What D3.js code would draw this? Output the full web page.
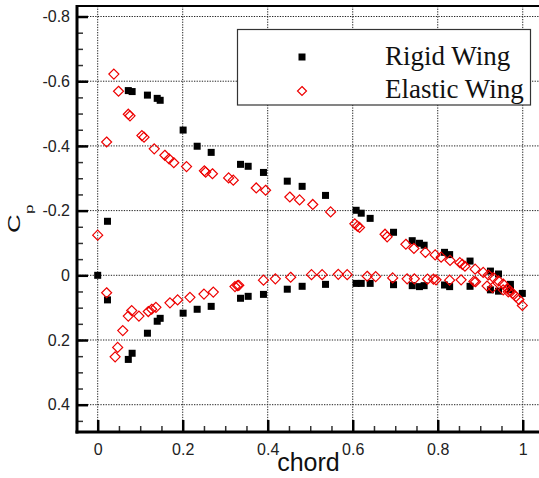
<!DOCTYPE html>
<html>
<head>
<meta charset="utf-8">
<script src="https://cdn.jsdelivr.net/npm/d3@7"></script>
<style>
  body { margin: 0; background: #fff; }
  svg { display: block; font-family: "Liberation Sans", Arial, sans-serif; }
</style>
</head>
<body>
<div id="vis-container"></div>
<script>
// chord, Cp
const rigidUpper = [
  [0.023, -0.167], [0.072, -0.571], [0.081, -0.568], [0.117, -0.557], [0.140, -0.547],
  [0.147, -0.541], [0.201, -0.449], [0.234, -0.399], [0.267, -0.380], [0.336, -0.343],
  [0.354, -0.337], [0.390, -0.318], [0.446, -0.291], [0.481, -0.275], [0.536, -0.247],
  [0.608, -0.201], [0.620, -0.192], [0.641, -0.176], [0.696, -0.133], [0.740, -0.107],
  [0.757, -0.099], [0.768, -0.093], [0.816, -0.071], [0.828, -0.064], [0.876, -0.044],
  [0.924, -0.013], [0.943, -0.004], [0.971, 0.028], [0.999, 0.056]
];
const rigidLower = [
  [0.000, 0.000], [0.023, 0.076], [0.072, 0.260], [0.081, 0.241], [0.117, 0.179],
  [0.140, 0.142], [0.147, 0.133], [0.201, 0.117], [0.234, 0.105], [0.267, 0.096],
  [0.336, 0.071], [0.354, 0.065], [0.390, 0.059], [0.446, 0.043], [0.481, 0.034],
  [0.536, 0.028], [0.608, 0.025], [0.620, 0.025], [0.641, 0.025], [0.696, 0.029],
  [0.740, 0.032], [0.757, 0.035], [0.768, 0.032], [0.816, 0.030], [0.828, 0.035],
  [0.876, 0.034], [0.924, 0.045], [0.943, 0.049], [0.971, 0.045]
];
const elasticUpper = [
  [0.000, -0.124], [0.021, -0.412], [0.038, -0.622], [0.049, -0.569], [0.072, -0.498],
  [0.076, -0.493], [0.104, -0.432], [0.109, -0.427], [0.133, -0.391], [0.158, -0.371],
  [0.168, -0.360], [0.179, -0.348], [0.209, -0.336], [0.251, -0.323], [0.254, -0.319],
  [0.270, -0.314], [0.308, -0.301], [0.319, -0.294], [0.373, -0.270], [0.395, -0.263],
  [0.452, -0.242], [0.475, -0.233], [0.506, -0.219], [0.548, -0.196], [0.605, -0.159],
  [0.611, -0.152], [0.616, -0.148], [0.676, -0.127], [0.681, -0.119], [0.725, -0.096],
  [0.744, -0.083], [0.771, -0.071], [0.794, -0.063], [0.808, -0.056], [0.829, -0.046],
  [0.852, -0.039], [0.858, -0.034], [0.864, -0.028], [0.888, -0.019], [0.907, -0.009],
  [0.919, -0.001], [0.931, 0.007], [0.943, 0.017], [0.954, 0.027], [0.964, 0.041],
  [0.970, 0.048], [0.976, 0.056], [0.984, 0.066], [0.991, 0.075], [0.999, 0.093]
];
const elasticLower = [
  [0.021, 0.054], [0.041, 0.252], [0.047, 0.223], [0.059, 0.171], [0.072, 0.126],
  [0.080, 0.109], [0.097, 0.126], [0.119, 0.112], [0.127, 0.105], [0.137, 0.099],
  [0.170, 0.085], [0.188, 0.076], [0.217, 0.068], [0.250, 0.058], [0.272, 0.052],
  [0.323, 0.035], [0.329, 0.032], [0.332, 0.031], [0.390, 0.015], [0.418, 0.011],
  [0.454, 0.006], [0.503, -0.002], [0.528, -0.002], [0.566, -0.003], [0.587, -0.002],
  [0.634, 0.003], [0.654, 0.004], [0.694, 0.008], [0.728, 0.011], [0.745, 0.011],
  [0.776, 0.012], [0.790, 0.012], [0.796, 0.014], [0.828, 0.015], [0.855, 0.014],
  [0.885, 0.019], [0.889, 0.020], [0.916, 0.033], [0.929, 0.038], [0.954, 0.045],
  [0.966, 0.051]
];

const xTicks = [0, 0.2, 0.4, 0.6, 0.8, 1];
const yTicks = [-0.8, -0.6, -0.4, -0.2, 0, 0.2, 0.4];
const xMinor = d3.range(0, 1.001, 0.05);
const yMinor = d3.range(-0.8, 0.46, 0.05);
const seriesNames = ["Rigid Wing", "Elastic Wing"];

const W = 539, H = 478;
const plot = { left: 77, right: 540, top: 6, bottom: 432 };

const svg = d3.select("#vis-container")
  .append("svg")
    .attr("width", W)
    .attr("height", H);

const x = d3.scaleLinear().domain([-0.0487, 1.0406]).range([plot.left, plot.right]);
const y = d3.scaleLinear().domain([-0.8325, 0.4844]).range([plot.top, plot.bottom]);

// grid
svg.append("g")
  .selectAll("line")
  .data(xTicks)
  .join("line")
    .attr("x1", d => x(d)).attr("x2", d => x(d))
    .attr("y1", plot.top).attr("y2", plot.bottom)
    .attr("stroke", "#222")
    .attr("stroke-width", 1)
    .attr("stroke-dasharray", "1.3,1.3");

svg.append("g")
  .selectAll("line")
  .data(yTicks)
  .join("line")
    .attr("x1", plot.left).attr("x2", plot.right)
    .attr("y1", d => y(d)).attr("y2", d => y(d))
    .attr("stroke", "#222")
    .attr("stroke-width", 1)
    .attr("stroke-dasharray", "1.3,1.3");

// minor ticks
svg.append("g")
  .attr("transform", `translate(${plot.left},0)`)
  .call(d3.axisLeft(y).tickValues(yMinor).tickSize(-6).tickFormat(""))
  .call(g => g.select(".domain").remove())
  .selectAll("line").attr("stroke-width", 1.5).attr("stroke", "#333");

svg.append("g")
  .attr("transform", `translate(0,${plot.bottom})`)
  .call(d3.axisBottom(x).tickValues(xMinor).tickSize(-6).tickFormat(""))
  .call(g => g.select(".domain").remove())
  .selectAll("line").attr("stroke-width", 1.5).attr("stroke", "#333");

// major ticks + labels
const fmt = d => String(+d.toFixed(1));

svg.append("g")
  .attr("transform", `translate(${plot.left},0)`)
  .call(d3.axisLeft(y).tickValues(yTicks).tickSize(-11).tickPadding(7).tickFormat(fmt))
  .call(g => g.select(".domain").remove())
  .call(g => g.selectAll("line").attr("stroke-width", 2.5).attr("stroke", "#000"))
  .call(g => g.selectAll("text")
    .attr("fill", "#222")
    .style("font-size", "16px")
    .style("font-family", "Liberation Sans, Arial, sans-serif"));

svg.append("g")
  .attr("transform", `translate(0,${plot.bottom})`)
  .call(d3.axisBottom(x).tickValues(xTicks).tickSize(-12).tickPadding(7).tickFormat(fmt))
  .call(g => g.select(".domain").remove())
  .call(g => g.selectAll("line").attr("stroke-width", 2.5).attr("stroke", "#000"))
  .call(g => g.selectAll("text")
    .attr("fill", "#222")
    .attr("dy", "1.0em")
    .style("font-size", "16px")
    .style("font-family", "Liberation Sans, Arial, sans-serif"));

// frame
svg.append("line")
  .attr("x1", plot.left).attr("x2", plot.right).attr("y1", plot.top).attr("y2", plot.top)
  .attr("stroke", "#000").attr("stroke-width", 2);
svg.append("line")
  .attr("x1", plot.left).attr("x2", plot.left).attr("y1", plot.top - 1).attr("y2", plot.bottom + 1.5)
  .attr("stroke", "#000").attr("stroke-width", 3);
svg.append("line")
  .attr("x1", plot.left - 1.5).attr("x2", plot.right).attr("y1", plot.bottom).attr("y2", plot.bottom)
  .attr("stroke", "#000").attr("stroke-width", 3);

// markers
const sq = 7;
const diamond = "M0,-5L5,0L0,5L-5,0Z";

svg.append("g")
  .selectAll("rect")
  .data(rigidUpper.concat(rigidLower))
  .join("rect")
    .attr("x", d => x(d[0]) - sq / 2)
    .attr("y", d => y(d[1]) - sq / 2)
    .attr("width", sq)
    .attr("height", sq)
    .attr("fill", "#000");

svg.append("g")
  .selectAll("path")
  .data(elasticUpper.concat(elasticLower))
  .join("path")
    .attr("transform", d => `translate(${x(d[0])},${y(d[1])})`)
    .attr("d", diamond)
    .attr("fill", "none")
    .attr("stroke", "#e00")
    .attr("stroke-width", 1.2);

// legend
const lg = svg.append("g");
lg.append("rect")
  .attr("x", 237.5).attr("y", 29.5)
  .attr("width", 293).attr("height", 75.5)
  .attr("fill", "#fff")
  .attr("stroke", "#333")
  .attr("stroke-width", 1.2);
lg.append("rect")
  .attr("x", 302 - 3.5).attr("y", 57 - 3.5)
  .attr("width", 7).attr("height", 7)
  .attr("fill", "#000");
lg.append("path")
  .attr("transform", "translate(302,91)")
  .attr("d", "M0,-4.5L4.5,0L0,4.5L-4.5,0Z")
  .attr("fill", "none")
  .attr("stroke", "#e00")
  .attr("stroke-width", 1.2);
lg.selectAll("text.lab")
  .data(seriesNames)
  .join("text")
    .attr("class", "lab")
    .attr("x", 385)
    .attr("y", (d, i) => 65 + i * 33)
    .style("font-family", "Liberation Serif, Times New Roman, serif")
    .style("font-size", "27px")
    .attr("fill", "#111")
    .text(d => d);

// axis titles
svg.append("text")
  .attr("x", (plot.left + plot.right) / 2)
  .attr("y", 471)
  .attr("text-anchor", "middle")
  .style("font-size", "25px")
  .attr("fill", "#111")
  .text("chord");

const yt = svg.append("g")
  .attr("transform", "translate(20,233) rotate(-90) scale(1,0.65)");
yt.append("text")
  .attr("x", 0).attr("y", 0)
  .style("font-size", "26px")
  .attr("fill", "#111")
  .text("C");
yt.append("text")
  .attr("x", 19).attr("y", 20)
  .style("font-size", "17px")
  .attr("fill", "#111")
  .text("p");
</script>
</body>
</html>
